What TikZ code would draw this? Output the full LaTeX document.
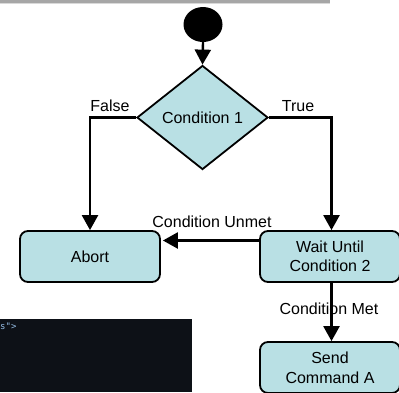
\documentclass[tikz,border=0pt]{standalone}
\usepackage{fontspec}
\setmainfont{Liberation Sans}
\newfontfamily\codefont{DejaVu Sans Mono}
\usetikzlibrary{shapes.geometric,arrows.meta}
\definecolor{boxfill}{RGB}{185,224,228}
\definecolor{codebg}{RGB}{13,17,23}
\definecolor{codetext}{RGB}{150,190,230}
\tikzset{
  every node/.style={font=\fontsize{16}{19}\selectfont},
  stepbox/.style={draw=black, line width=1.8pt, fill=boxfill, rounded corners=8pt,
    minimum width=140pt, minimum height=51pt, align=center, inner sep=0pt},
  decision/.style={diamond, draw=black, line width=1.8pt, fill=boxfill,
    minimum width=131pt, minimum height=104pt, inner sep=0pt},
  flow/.style={line width=2.4pt, -{Triangle[length=15pt,width=16pt]}},
  lbl/.style={inner sep=0pt}
}
\begin{document}
\begin{tikzpicture}[x=1pt,y=-1pt]
  \useasboundingbox (0,0) rectangle (399,392);
  \clip (0,0) rectangle (399,392);
  \fill[white] (0,0) rectangle (399,392);

  % window shadow strip along the top
  \fill[black!35] (0,0) rectangle (330,2.5);
  \fill[black!15] (0,2.5) rectangle (330,4);

  % dark code panel, lower left
  \fill[codebg] (0,319) rectangle (192,392);
  \node[lbl, anchor=west, text=codetext, font=\codefont\fontsize{9}{10}\selectfont] (code) at (0,326) {s">};

  % nodes
  \node[ellipse, fill=black, minimum width=39pt, minimum height=35pt, inner sep=0pt] (start) at (203,24.5) {};
  \node[decision] (cond) at (202.5,117.5) {Condition 1};
  \node[stepbox] (abort) at (90,256.5) {Abort};
  \node[stepbox] (wait) at (330,256.5) {Wait Until\\[0pt]Condition 2};
  \node[stepbox] (send) at (330,367.5) {Send\\[1pt]Command A};

  % labels
  \node[lbl] (lfalse) at (110,106) {False};
  \node[lbl] (ltrue) at (298,106) {True};
  \node[lbl] (lunmet) at (212,222) {Condition Unmet};
  \node[lbl] (lmet) at (329,309) {Condition Met};

  % connectors
  \draw[flow] (start.south) -- (cond.north);
  \draw[flow] (cond.west) -| (abort.north);
  \draw[flow] (cond.east) -| ([xshift=1.5pt]wait.north);
  \draw[flow] ([yshift=16pt]wait.west) -- ([yshift=16pt,xshift=2pt]abort.east);
  \draw[flow] ([xshift=1.5pt]wait.south) -- ([xshift=1.5pt]send.north);
\end{tikzpicture}
\end{document}
